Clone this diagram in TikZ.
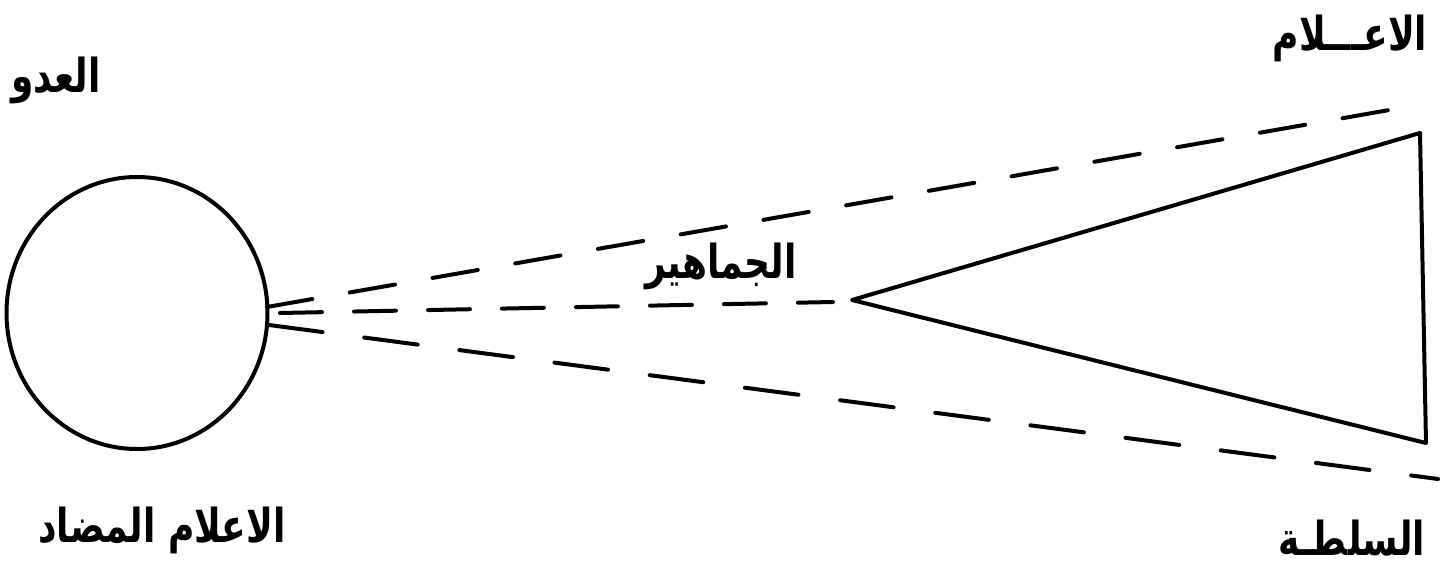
\documentclass[tikz,border=0pt]{standalone}
\usepackage{fontspec}
\usetikzlibrary{shapes.geometric}
\newfontfamily\arabicfont[Script=Arabic]{DejaVu Sans}
\TeXXeTstate=1
\begin{document}
\begin{tikzpicture}[x=1pt,y=-1pt,
  solidline/.style={line width=4pt,line join=round,line cap=round},
  dashline/.style={line width=4pt,line cap=round,dash pattern=on 46pt off 38pt},
  lbl/.style={font=\arabicfont\bfseries\fontsize{36}{44}\selectfont,inner sep=0pt,yscale=1.3,transform shape}]
\useasboundingbox (0,0) rectangle (1452,570);
\fill[white] (0,0) rectangle (1452,570);
% circle
\node[draw,solidline,ellipse,minimum width=261pt,minimum height=272pt,inner sep=0pt] (enemy) at (137,313) {};
% triangle
\coordinate (apex) at (852,300);
\coordinate (top) at (1420,133);
\coordinate (bot) at (1426,443);
\draw[solidline] (apex) -- (top) -- (bot) -- cycle;
% dashed lines
\coordinate (u0) at (267,307);
\coordinate (u1) at (1395,109);
\coordinate (m0) at (280,313);
\coordinate (m1) at (833,302);
\coordinate (l0) at (269,325);
\coordinate (l1) at (1438,479);
\draw[dashline] (u0) -- (u1);
\draw[dashline,dash pattern=on 42pt off 32pt] (m0) -- (m1);
\draw[dashline,dash pattern=on 54pt off 42pt] (l0) -- (l1);
% labels
\node[lbl] (t1) at (56,80) {\beginR العدو\endR};
\node[lbl] (t2) at (162,530) {\beginR الاعلام المضاد\endR};
\node[lbl] (t3) at (1350,38) {\beginR الاعـــلام\endR};
\node[lbl] (t4) at (1352,538) {\beginR السلطـة\endR};
\node[lbl] (t5) at (721,266) {\beginR الجماهير\endR};
\end{tikzpicture}
\end{document}
